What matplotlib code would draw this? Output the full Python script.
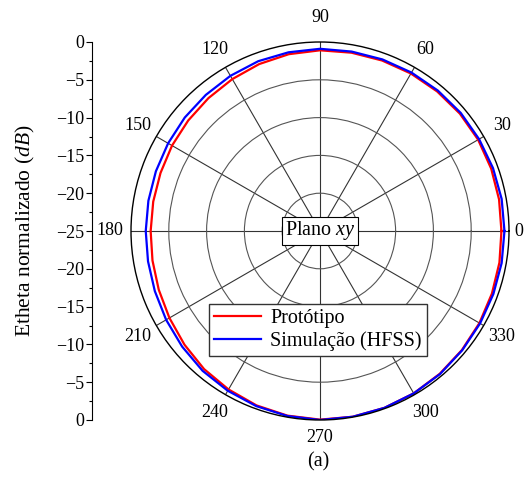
import numpy as np
import matplotlib
matplotlib.use('Agg')
from matplotlib import pyplot as plt
from matplotlib.ticker import MultipleLocator

plt.rcParams['font.family'] = 'Liberation Serif'
plt.rcParams['mathtext.fontset'] = 'custom'
plt.rcParams['mathtext.rm'] = 'Liberation Serif'
plt.rcParams['mathtext.it'] = 'Liberation Serif:italic'
plt.rcParams['font.size'] = 13

# normalized E-theta (dB), xy plane, sampled every 10 degrees
angles_deg = np.arange(0, 360, 10)
prototipo_db = [-1.0, -0.95, -0.9, -0.85, -0.85, -0.9, -0.95, -1.0, -1.05,
                -1.1, -1.25, -1.5, -1.8, -2.05, -2.25, -2.4, -2.55, -2.6,
                -2.6, -2.5, -2.3, -2.0, -1.6, -1.15, -0.8, -0.45, -0.2,
                -0.05, -0.05, -0.1, -0.2, -0.35, -0.5, -0.65, -0.8, -0.9]
hfss_db = [-0.6, -0.6, -0.65, -0.7, -0.7, -0.75, -0.8, -0.85, -0.9,
           -0.9, -1.0, -1.1, -1.3, -1.5, -1.65, -1.8, -1.9, -1.95,
           -1.95, -1.9, -1.75, -1.5, -1.2, -0.85, -0.6, -0.35, -0.15,
           0.0, -0.05, -0.1, -0.2, -0.3, -0.45, -0.55, -0.6, -0.6]

theta_ticks = np.arange(0, 360, 30)
theta_labels = ['0', '30', '60', '90', '120', '150',
                '180', '210', '240', '270', '300', '330']

W, H = 526, 480
R_PX = 189.0
fig = plt.figure(figsize=(W / 100, H / 100), dpi=100)

# linear dB scale on the left, mirrored about the centre (-25)
axl = fig.add_axes([92 / W, 60 / H, 0.001, 378 / H])
axl.set_ylim(0, 50)
for s in ['top', 'right', 'bottom']:
    axl.spines[s].set_visible(False)
axl.spines['left'].set_linewidth(0.8)
axl.patch.set_visible(False)
axl.set_xticks([])
yt = np.arange(0, 51, 5)
axl.set_yticks(yt)
labels = []
for v in yt:
    d = 25 - abs(v - 25)
    labels.append('0' if d == 0 else '\u2212%d' % d)
axl.set_yticklabels(labels)
axl.yaxis.set_minor_locator(MultipleLocator(2.5))
axl.tick_params(axis='y', which='major', length=4, width=0.8, direction='out', pad=1.5)
axl.tick_params(axis='y', which='minor', length=2.5, width=0.8, direction='out')
axl.set_ylabel(r'Etheta normalizado ($dB$)', fontsize=15.5, labelpad=14)

# polar pattern
ax = fig.add_axes([131 / W, 60 / H, 378 / W, 378 / H], projection='polar')
th = np.deg2rad(np.append(angles_deg, angles_deg[0]))
ax.plot(th, prototipo_db + prototipo_db[:1], color='red', lw=1.6, label='Protótipo')
ax.plot(th, hfss_db + hfss_db[:1], color='blue', lw=1.6, label='Simulação (HFSS)')
ax.set_rlim(-25, 0)
ax.set_yticks([-20, -15, -10, -5])
ax.set_yticklabels([])
ax.set_xticks(np.deg2rad(theta_ticks))
ax.set_xticklabels([])
ax.set_xticks(np.deg2rad(np.arange(15, 360, 30)), minor=True)
ax.tick_params(axis='x', which='major', direction='in', length=6, width=0.8)
ax.tick_params(axis='x', which='minor', direction='in', length=4, width=0.8)
ax.xaxis.grid(True, color='#333333', lw=0.8)
ax.yaxis.grid(True, color='#555555', lw=0.8)
ax.spines['polar'].set_linewidth(1.0)

# angle labels just outside the outer ring
for a, lab in zip(theta_ticks, theta_labels):
    r_px = 210
    if a == 0:
        r_px = 199
    elif a == 90:
        r_px = 214
    elif a == 270:
        r_px = 207
    ax.text(np.deg2rad(a), -25 + 25 * r_px / R_PX, lab, ha='center', va='center',
            clip_on=False)

ax.text(0.5, 0.5, r'Plano $xy$', transform=ax.transAxes, ha='center', va='center',
        fontsize=14.5,
        bbox=dict(boxstyle='square,pad=0.12', fc='white', ec='black', lw=0.8))

ax.legend(loc='upper left', bbox_to_anchor=(209 / W, 1 - 304 / H),
          bbox_transform=fig.transFigure, fancybox=False, edgecolor='#333333',
          framealpha=1, fontsize=14.5, handlelength=2.35, borderaxespad=0,
          borderpad=0.25, labelspacing=0.15, handletextpad=0.45)

fig.text(318 / W, 1 - 462 / H, '(a)', ha='center', va='center', fontsize=14.5)

fig.savefig('out.png', dpi=100)
